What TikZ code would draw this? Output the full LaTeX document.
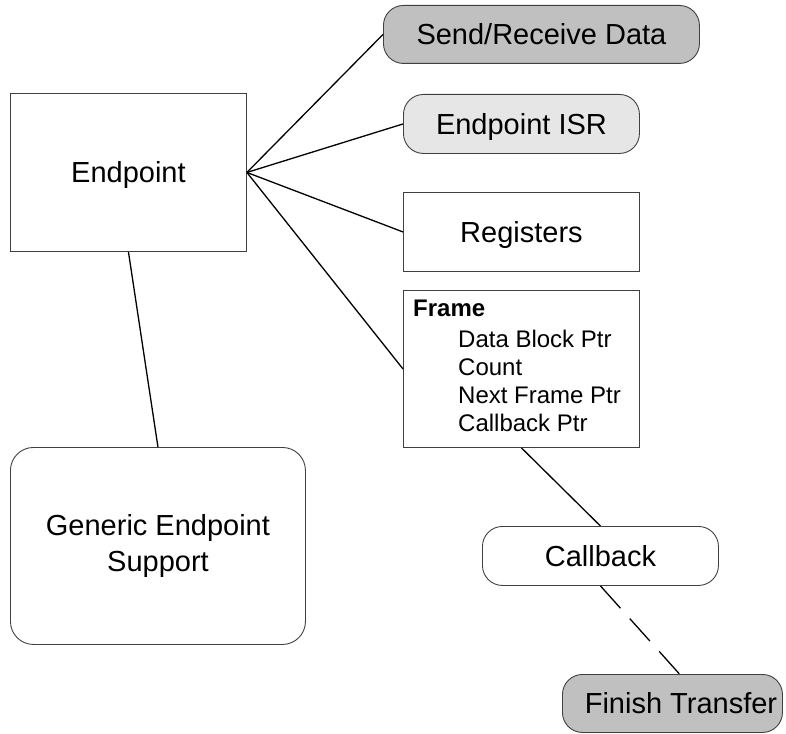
\documentclass[tikz,border=0pt]{standalone}
\usepackage{fontspec}
\setmainfont{Liberation Sans}
\definecolor{darkfill}{HTML}{C0C0C0}
\definecolor{lightfill}{HTML}{E6E6E6}
\begin{document}
\begin{tikzpicture}[x=1pt,y=-1pt,
  box/.style={draw=black!75, line width=0.9pt, inner sep=0pt, anchor=north west,
    font=\fontsize{29}{36}\selectfont, text height=20.8pt, text depth=0pt},
  rbox/.style={box, rounded corners=20pt},
  link/.style={line width=1.3pt, draw=black},
  fieldtext/.style={anchor=base west, inner sep=0pt, font=\fontsize{24}{28}\selectfont}]
\useasboundingbox (0,0) rectangle (786,733);

% main blocks
\node[box, minimum width=236pt, minimum height=158pt] (ep) at (10,93) {Endpoint};
\node[rbox, rounded corners=23pt, minimum width=295pt, minimum height=197pt,
  align=center, text height=, text depth=] (gen) at (10,447) {Generic Endpoint\\Support};

% components hanging off the endpoint
\node[rbox, fill=darkfill, minimum width=316pt, minimum height=58pt] (send) at (383,5) {Send/Receive Data};
\node[rbox, fill=lightfill, minimum width=236pt, minimum height=59pt] (isr) at (403,94) {Endpoint ISR};
\node[box, minimum width=236pt, minimum height=79pt] (reg) at (403,192) {Registers};
\node[box, minimum width=236pt, minimum height=157pt] (fr) at (403,290) {};

% frame fields
\node[fieldtext, font=\fontsize{24}{28}\selectfont\bfseries] (f0) at (413,316) {Frame};
\node[fieldtext] (f1) at (458,347) {Data Block Ptr};
\node[fieldtext] (f2) at (458,375.5) {Count};
\node[fieldtext] (f3) at (458,403.5) {Next Frame Ptr};
\node[fieldtext] (f4) at (458,431.5) {Callback Ptr};

% completion path
\node[rbox, minimum width=236pt, minimum height=59pt] (cb) at (482,526) {Callback};
\node[rbox, fill=darkfill, minimum width=220pt, minimum height=58pt] (ft) at (562,674) {\hspace*{17pt}Finish Transfer};

% connectors
\draw[link] (ep.east) -- (send.west);
\draw[link] (ep.east) -- (isr.west);
\draw[link] (ep.east) -- (reg.west);
\draw[link] (ep.east) -- (fr.west);
\draw[link] (ep.south) -- (gen.north);
\draw[link] (fr.south) -- (cb.north);
\draw[link, dash pattern=on 30pt off 14pt] (cb.south) -- ([xshift=7pt]ft.north);
\end{tikzpicture}
\end{document}
